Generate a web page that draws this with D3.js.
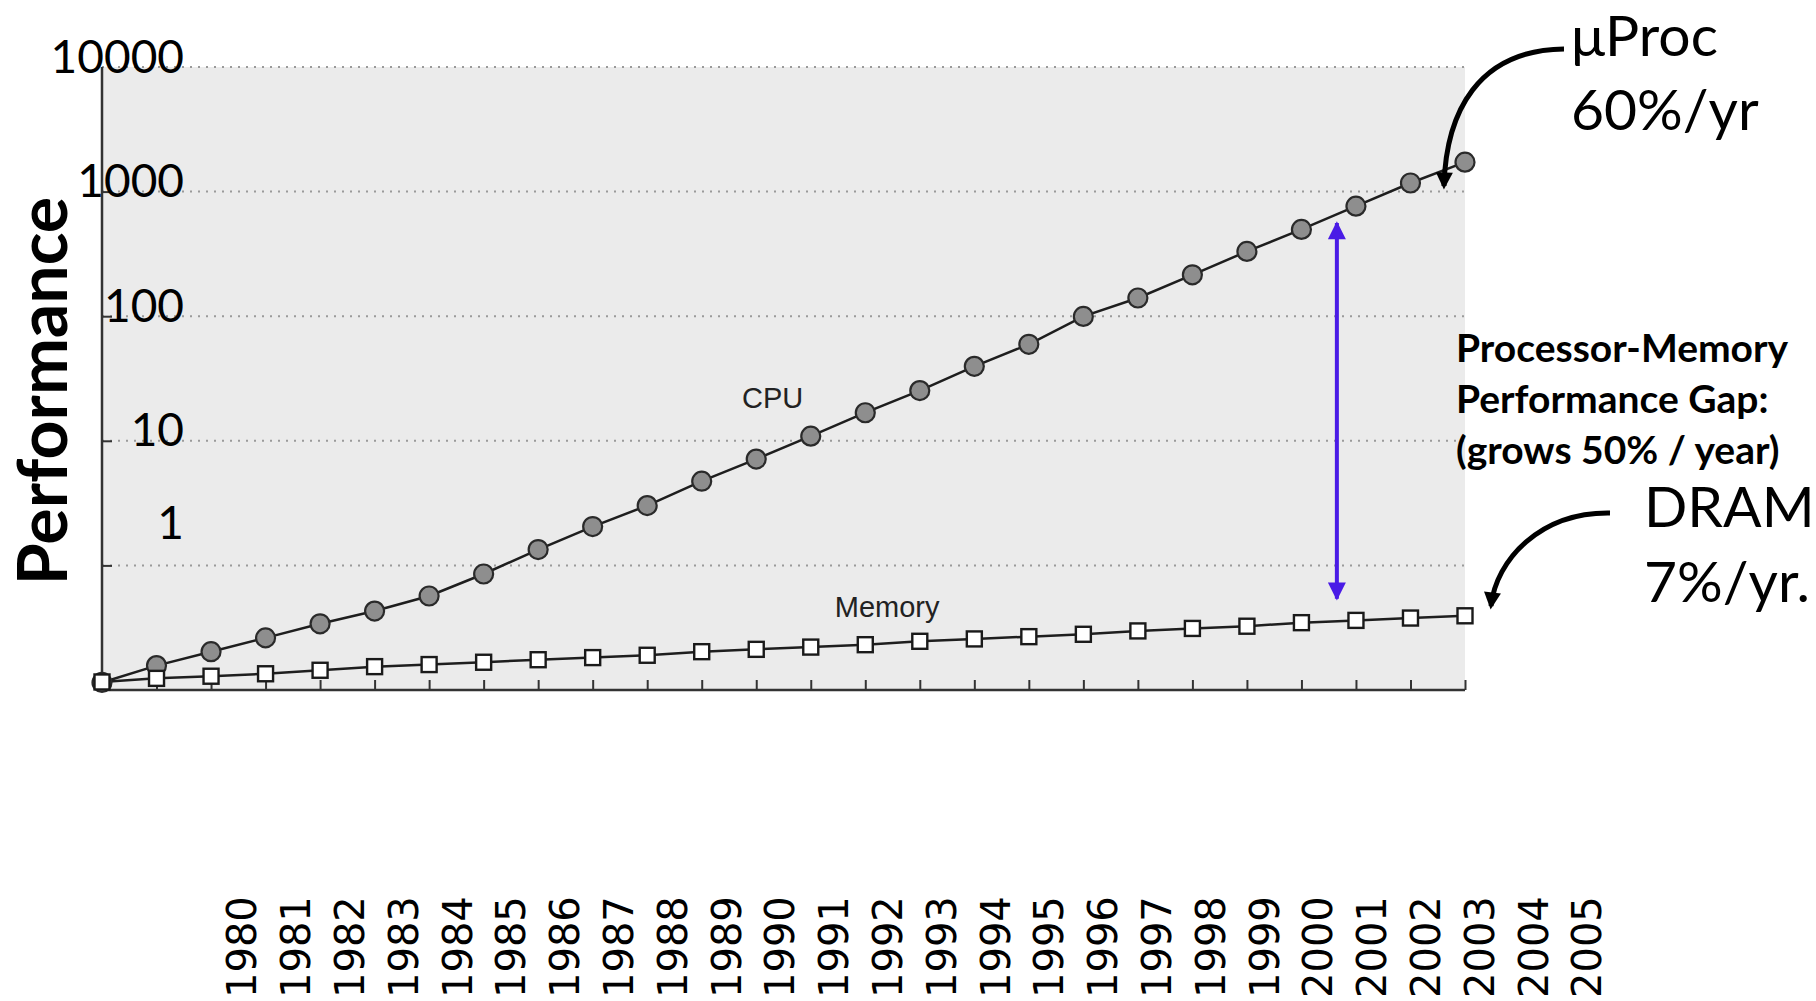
<!DOCTYPE html>
<html>
<head>
<meta charset="utf-8">
<script src="https://cdn.jsdelivr.net/npm/d3@7"></script>
<style>
  html, body { margin: 0; padding: 0; background: #fff; overflow: hidden; }
  svg { display: block; }
</style>
</head>
<body>
<svg id="chart" width="1816" height="1001"></svg>
<script>
// ---------------- DATA ----------------
const years = d3.range(1980, 2006);
const cpuPerf = [0.115, 0.157, 0.203, 0.262, 0.340, 0.430, 0.568, 0.853, 1.34, 2.05,
                 3.02, 4.74, 7.13, 10.9, 16.8, 25.3, 39.6, 59.5, 99.6, 140,
                 215, 331, 497, 764, 1172, 1723];
const memPerf = [0.116, 0.124, 0.129, 0.135, 0.144, 0.154, 0.160, 0.167, 0.175, 0.182,
                 0.190, 0.203, 0.212, 0.221, 0.231, 0.246, 0.257, 0.268, 0.280, 0.298,
                 0.312, 0.325, 0.347, 0.362, 0.378, 0.394];
const gridValues = [1, 10, 100, 1000, 10000];
const yTickLabels = ["10000", "1000", "100", "10", "1"];
const yTickAnchors = [10000, 1000, 100, 10, 1.8];
const yearLabels = years.map(String);
const seriesLabels = ["CPU", "Memory"];
const seriesLabelAt = [[1992.3, 22.4], [1994.4, 0.47]];   // [year, value]
const gapYear = 2002.65;                 // blue gap arrow position (year)
const gapValues = [0.54, 560];           // from memory curve up to CPU curve
const uProcText = ["\u03BCProc", "60%/yr"];
const dramText = ["DRAM", "7%/yr."];
const gapText = ["Processor-Memory", "Performance Gap:", "(grows 50% / year)"];

// ---------------- LAYOUT ----------------
const svg = d3.select("#chart");
const plot = { left: 102, right: 1465, top: 67, bottom: 690 };

const x = d3.scaleLinear().domain([1980, 2005]).range([plot.left, plot.right]);
const y = d3.scaleLog().domain([0.1, 10000]).range([plot.bottom, plot.top]);
const xLab = d3.scalePoint().domain(yearLabels).range([242, 1587]);

const defs = svg.append("defs");
defs.append("marker").attr("id", "blueHead")
  .attr("viewBox", "0 0 10 10").attr("refX", 9).attr("refY", 5)
  .attr("markerWidth", 5).attr("markerHeight", 4.5).attr("markerUnits", "strokeWidth")
  .attr("orient", "auto-start-reverse")
  .append("path").attr("d", "M0,0 L10,5 L0,10 Z").attr("fill", "#4a1be6");
defs.append("marker").attr("id", "blackHead")
  .attr("viewBox", "0 0 10 10").attr("refX", 8).attr("refY", 5)
  .attr("markerWidth", 4).attr("markerHeight", 3.4).attr("markerUnits", "strokeWidth")
  .attr("orient", "auto")
  .append("path").attr("d", "M0,0 L10,5 L0,10 Z").attr("fill", "#000");

// plot background
svg.append("rect")
  .attr("x", plot.left).attr("y", plot.top)
  .attr("width", plot.right - plot.left).attr("height", plot.bottom - plot.top)
  .attr("fill", "#ebebeb");

// dotted gridlines
svg.append("g").selectAll("line").data(gridValues).join("line")
  .attr("x1", plot.left).attr("x2", plot.right)
  .attr("y1", d => y(d)).attr("y2", d => y(d))
  .attr("stroke", "#9a9a9a").attr("stroke-width", 2)
  .attr("stroke-dasharray", "2,6");

// axes
const xAxis = d3.axisBottom(x).tickValues(years).tickSize(-10).tickFormat("");
const gx = svg.append("g").attr("transform", `translate(0,${plot.bottom})`).call(xAxis);
gx.select(".domain").attr("stroke", "#333").attr("stroke-width", 2.5).attr("d", `M${plot.left},0H${plot.right}`);
gx.selectAll(".tick line").attr("stroke", "#333").attr("stroke-width", 2);

const yAxis = d3.axisLeft(y).tickValues(gridValues.slice(0, 4)).tickSize(-10).tickFormat("");
const gy = svg.append("g").attr("transform", `translate(${plot.left},0)`).call(yAxis);
gy.select(".domain").attr("stroke", "#333").attr("stroke-width", 2.5).attr("d", `M0,${plot.top}V${plot.bottom}`);
gy.selectAll(".tick line").attr("stroke", "#333").attr("stroke-width", 2);

// y tick labels (slide overlay)
svg.append("g").selectAll("text").data(yTickLabels).join("text")
  .attr("x", 184).attr("y", (d, i) => y(yTickAnchors[i]) - 11)
  .attr("dy", "0.36em")
  .attr("text-anchor", "end")
  .attr("font-family", "Lato, 'Open Sans', sans-serif")
  .attr("font-size", 46).attr("fill", "#000")
  .text(d => d);

// y-axis title
svg.append("text")
  .attr("transform", "translate(67,391) rotate(-90)")
  .attr("text-anchor", "middle")
  .attr("font-family", "Lato, sans-serif").attr("font-weight", 700)
  .attr("font-size", 68).attr("fill", "#000")
  .text("Performance");

// lines
const line = d3.line().x((d, i) => x(years[i])).y(d => y(d));
svg.append("path").datum(cpuPerf).attr("d", line)
  .attr("fill", "none").attr("stroke", "#1e1e1e").attr("stroke-width", 2.5);
svg.append("path").datum(memPerf).attr("d", line)
  .attr("fill", "none").attr("stroke", "#1e1e1e").attr("stroke-width", 2.5);

// CPU markers
svg.append("g").selectAll("circle").data(cpuPerf).join("circle")
  .attr("cx", (d, i) => x(years[i])).attr("cy", d => y(d)).attr("r", 9.5)
  .attr("fill", "#8e8e8e").attr("stroke", "#2a2a2a").attr("stroke-width", 2.2);

// Memory markers
const sq = 15;
svg.append("g").selectAll("rect").data(memPerf).join("rect")
  .attr("x", (d, i) => x(years[i]) - sq / 2).attr("y", d => y(d) - sq / 2)
  .attr("width", sq).attr("height", sq)
  .attr("fill", "#fff").attr("stroke", "#1a1a1a").attr("stroke-width", 2.4);

// series labels
svg.append("g").selectAll("text").data(seriesLabels).join("text")
  .attr("x", (d, i) => x(seriesLabelAt[i][0]))
  .attr("y", (d, i) => y(seriesLabelAt[i][1]))
  .attr("dy", "0.36em")
  .attr("text-anchor", "middle")
  .attr("font-family", "'Liberation Sans', Arial, sans-serif")
  .attr("font-size", 29).attr("fill", "#222").text(d => d);

// blue gap arrow
svg.append("line")
  .attr("x1", x(gapYear)).attr("x2", x(gapYear))
  .attr("y1", y(gapValues[0])).attr("y2", y(gapValues[1]))
  .attr("stroke", "#4a1be6").attr("stroke-width", 4)
  .attr("marker-start", "url(#blueHead)").attr("marker-end", "url(#blueHead)");

// gap text
svg.append("g").selectAll("text").data(gapText).join("text")
  .attr("x", 1456).attr("y", (d, i) => 362 + i * 51)
  .attr("font-family", "Lato, sans-serif").attr("font-weight", 700)
  .attr("font-size", 39).attr("fill", "#000")
  .text(d => d);

// uProc annotation
svg.append("g").selectAll("text").data(uProcText).join("text")
  .attr("x", 1571).attr("y", (d, i) => 56 + i * 74)
  .attr("font-family", "Lato, sans-serif")
  .attr("font-size", 57).attr("fill", "#000").text(d => d);
svg.append("path")
  .attr("d", "M1564,49 C1478,50 1446,112 1444,186")
  .attr("fill", "none").attr("stroke", "#000").attr("stroke-width", 5)
  .attr("marker-end", "url(#blackHead)");

// DRAM annotation
svg.append("g").selectAll("text").data(dramText).join("text")
  .attr("x", 1644).attr("y", (d, i) => 527 + i * 75)
  .attr("font-family", "Lato, sans-serif")
  .attr("font-size", 57).attr("fill", "#000").text(d => d);
svg.append("path")
  .attr("d", "M1610,513 C1540,512 1496,560 1491,606")
  .attr("fill", "none").attr("stroke", "#000").attr("stroke-width", 5)
  .attr("marker-end", "url(#blackHead)");

// overlay year labels at bottom
svg.append("g").selectAll("text").data(yearLabels).join("text")
  .attr("transform", d => `translate(${xLab(d)},998) rotate(-90)`)
  .attr("dy", "0.36em")
  .attr("font-family", "'DejaVu Sans', sans-serif")
  .attr("font-size", 40).attr("fill", "#000")
  .text(d => d);
</script>
</body>
</html>
